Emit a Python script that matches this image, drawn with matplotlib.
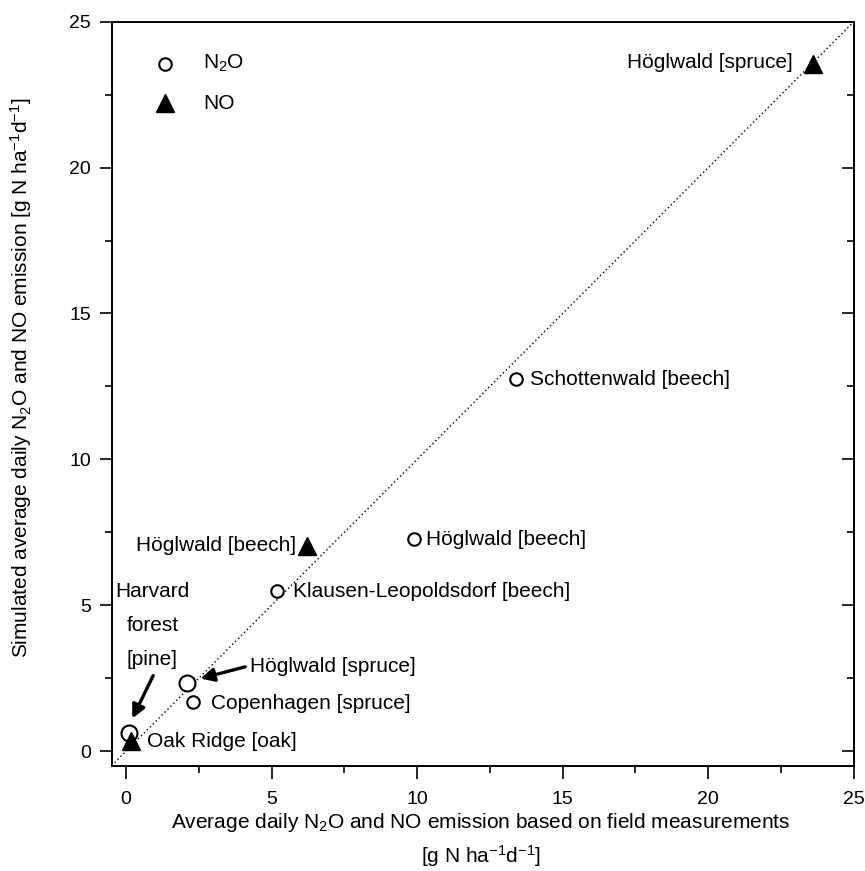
import numpy as np
import matplotlib
matplotlib.use("Agg")
import matplotlib.pyplot as plt

plt.rcParams['font.family'] = ['Liberation Sans', 'DejaVu Sans']
plt.rcParams['mathtext.fontset'] = 'custom'
plt.rcParams['mathtext.rm'] = 'Liberation Sans'
plt.rcParams['mathtext.default'] = 'regular'

# N2O sites (measured, simulated)
n2o_sites = ["Schottenwald [beech]", "Höglwald [beech]", "Klausen-Leopoldsdorf [beech]",
             "Höglwald [spruce]", "Copenhagen [spruce]", "Harvard\nforest\n[pine]"]
n2o_meas = [13.4, 9.9, 5.2, 2.1, 2.3, 0.1]
n2o_sim = [12.75, 7.26, 5.48, 2.34, 1.69, 0.62]

# NO sites
no_sites = ["Höglwald [spruce]", "Höglwald [beech]", "Oak Ridge [oak]"]
no_meas = [23.6, 6.2, 0.17]
no_sim = [23.56, 7.02, 0.34]

fig = plt.figure(figsize=(8.65, 8.71), dpi=100)
ax = fig.add_axes([0.129, 0.121, 0.858, 0.854])

ax.plot([-0.5, 25], [-0.5, 25], color='black', linestyle=(0, (1, 2)), linewidth=1.0, zorder=1)

big = [False, False, False, True, False, True]
for x, y, b in zip(n2o_meas, n2o_sim, big):
    ax.plot(x, y, 'o', markerfacecolor='white', markeredgecolor='black',
            markersize=11.5 if b else 9, markeredgewidth=1.5, zorder=3)
ax.plot(no_meas, no_sim, '^', color='black', markersize=13.5, zorder=3)

fs = 15
# N2O labels
ax.text(13.87, 12.75, n2o_sites[0], fontsize=fs, va='center', ha='left')
ax.text(10.3, 7.26, n2o_sites[1], fontsize=fs, va='center', ha='left')
ax.text(5.72, 5.48, n2o_sites[2], fontsize=fs, va='center', ha='left')
ax.text(4.25, 2.9, n2o_sites[3], fontsize=fs, va='center', ha='left')
ax.text(2.93, 1.64, n2o_sites[4], fontsize=fs, va='center', ha='left')
ax.text(0.9, 4.3, n2o_sites[5], fontsize=fs, va='center', ha='center', linespacing=2.0)
# NO labels
ax.text(22.9, 23.6, no_sites[0], fontsize=fs, va='center', ha='right')
ax.text(5.85, 7.05, no_sites[1], fontsize=fs, va='center', ha='right')
ax.text(0.73, 0.34, no_sites[2], fontsize=fs, va='center', ha='left')

# arrows
ax.annotate("", xy=(2.46, 2.46), xytext=(4.18, 2.91),
            arrowprops=dict(arrowstyle='-|>', color='black', lw=2.4, mutation_scale=20))
ax.annotate("", xy=(0.17, 1.03), xytext=(0.97, 2.67),
            arrowprops=dict(arrowstyle='-|>', color='black', lw=2.4, mutation_scale=20))

# legend
ax.plot(1.32, 23.56, 'o', markerfacecolor='white', markeredgecolor='black',
        markersize=9, markeredgewidth=1.5)
ax.plot(1.32, 22.2, '^', color='black', markersize=13.5)
ax.text(2.65, 23.56, "N$_2$O", fontsize=fs, va='center', ha='left')
ax.text(2.65, 22.2, "NO", fontsize=fs, va='center', ha='left')

ax.set_xlim(-0.5, 25)
ax.set_ylim(-0.5, 25)
ticks = [0, 5, 10, 15, 20, 25]
ax.set_xticks(ticks)
ax.set_yticks(ticks)
ax.set_xticks(np.arange(2.5, 25, 5), minor=True)
ax.set_yticks(np.arange(2.5, 25, 5), minor=True)
ax.tick_params(which='major', direction='out', length=9, width=1.2, labelsize=14, pad=6)
ax.tick_params(axis='x', which='major', pad=9)
ax.tick_params(which='minor', direction='out', length=5, width=1.2)
for s in ax.spines.values():
    s.set_linewidth(1.4)

# right-side inward ticks
ax2 = ax.secondary_yaxis('right')
ax2.set_yticks(ticks)
ax2.set_yticks(np.arange(2.5, 25, 5), minor=True)
ax2.tick_params(which='major', direction='in', length=9, width=1.2, labelright=False)
ax2.tick_params(which='minor', direction='in', length=5, width=1.2)
ax2.spines['right'].set_linewidth(1.4)

fig.text(0.556, 0.056, "Average daily N$_2$O and NO emission based on field measurements",
         fontsize=fs, ha='center', va='center')
fig.text(0.556, 0.017, "[g N ha$^{-1}$d$^{-1}$]", fontsize=fs, ha='center', va='center')
fig.text(0.024, 0.566, "Simulated average daily N$_2$O and NO emission [g N ha$^{-1}$d$^{-1}$]",
         fontsize=fs, ha='center', va='center', rotation=90)

fig.savefig("out.png", dpi=100)
